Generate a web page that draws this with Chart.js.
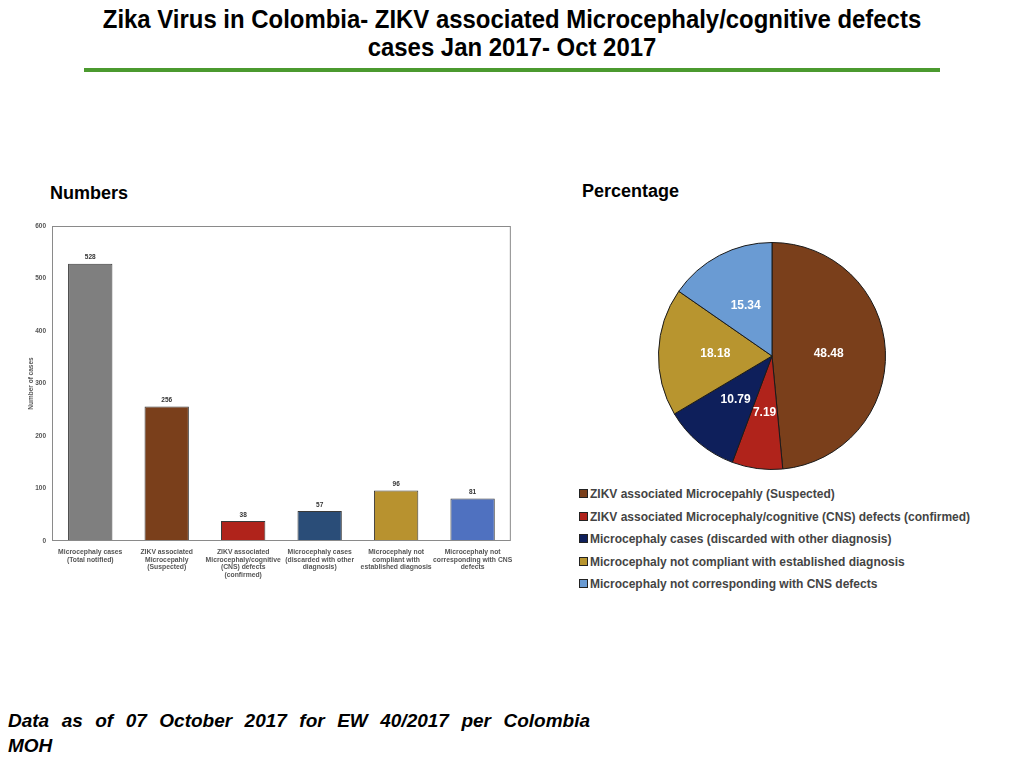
<!DOCTYPE html>
<html>
<head>
<meta charset="utf-8">
<script src="https://cdn.jsdelivr.net/npm/chart.js@4"></script>
<style>
  body { margin:0; background:#fff; width:1024px; height:768px; position:relative; overflow:hidden; font-family:"Liberation Sans", Arial, sans-serif; }
  #title { position:absolute; top:5px; left:0; width:1024px; text-align:center; font-weight:bold; font-size:26px; line-height:28px; color:#000; transform:scaleX(0.92); transform-origin:512px 0; }
  #rule { position:absolute; left:84px; top:68px; width:856px; height:4px; background:#4b9a2f; }
  .head { position:absolute; font-weight:bold; font-size:18px; color:#000; }
  #barWrap { position:absolute; left:20px; top:220px; width:500px; height:370px; }
  #pieWrap { position:absolute; left:655px; top:239px; width:234px; height:234px; }
  #legend { position:absolute; left:579px; top:487px; font-size:12px; font-weight:bold; color:#444; }
  #legend div { height:22.5px; line-height:14px; white-space:nowrap; }
  #legend span { display:inline-block; width:7px; height:7px; border:1px solid #222; margin-right:2px; vertical-align:0px; }
  #foot { position:absolute; left:8px; top:708px; width:582px; font-size:19px; font-weight:bold; font-style:italic; line-height:25px; color:#000; }
  #foot .l1 { text-align:justify; text-align-last:justify; }
</style>
</head>
<body>
<div id="title">Zika Virus in Colombia- ZIKV associated Microcephaly/cognitive defects<br>cases Jan 2017- Oct 2017</div>
<div id="rule"></div>
<div class="head" style="left:50px;top:183px;">Numbers</div>
<div class="head" style="left:582px;top:181px;">Percentage</div>
<div id="barWrap"><canvas id="barChart"></canvas></div>
<div id="pieWrap"><canvas id="pieChart"></canvas></div>
<div id="legend"></div>
<div id="foot"><div class="l1">Data as of 07 October 2017 for EW 40/2017 per Colombia</div><div>MOH</div></div>
<script>
// bar chart data
const barLabels = [
  ['Microcephaly cases', '(Total notified)'],
  ['ZIKV associated', 'Microcepahly', '(Suspected)'],
  ['ZIKV associated', 'Microcephaly/cognitive', '(CNS) defects', '(confirmed)'],
  ['Microcephaly cases', '(discarded with other', 'diagnosis)'],
  ['Microcephaly not', 'compliant with', 'established diagnosis'],
  ['Microcephaly not', 'corresponding with CNS', 'defects']
];
const barValues = [528, 256, 38, 57, 96, 81];
const barColors = ['#7f7f7f', '#7a3f1b', '#b0231b', '#2a4d78', '#b8922f', '#4f71c0'];
const yTicks = [0, 100, 200, 300, 400, 500, 600];
const yTitle = 'Number of cases';

// pie chart data
const pieLabels = [
  'ZIKV associated Microcepahly (Suspected)',
  'ZIKV associated Microcephaly/cognitive (CNS) defects (confirmed)',
  'Microcephaly cases (discarded with other diagnosis)',
  'Microcephaly not compliant with established diagnosis',
  'Microcephaly not corresponding with CNS defects'
];
const pieValues = [48.48, 7.19, 10.79, 18.18, 15.34];
const pieColors = ['#7a3f1b', '#b0231b', '#0e1f5b', '#b8952f', '#6a9bd3'];

// values on top of the bars, box round the plot, y title
const barValuePlugin = {
  id: 'barValues',
  afterDatasetsDraw(chart) {
    const ctx = chart.ctx;
    const meta = chart.getDatasetMeta(0);
    const a = chart.chartArea;
    ctx.save();
    ctx.font = 'bold 6.5px "Liberation Sans", Arial';
    ctx.fillStyle = '#333';
    ctx.textAlign = 'center';
    ctx.textBaseline = 'bottom';
    meta.data.forEach((bar, i) => {
      ctx.fillText(barValues[i], bar.x, bar.y - 3);
    });
    ctx.strokeStyle = '#8a8a8a';
    ctx.lineWidth = 1;
    ctx.strokeRect(a.left + 0.5, a.top + 0.5, a.right - a.left - 1, a.bottom - a.top - 1);
    // rotated axis title
    ctx.translate(11, (a.top + a.bottom) / 2);
    ctx.rotate(-Math.PI / 2);
    ctx.textBaseline = 'middle';
    ctx.fillStyle = '#555';
    ctx.fillText(yTitle, 0, 0);
    ctx.restore();
  }
};

new Chart(document.getElementById('barChart'), {
  type: 'bar',
  data: {
    labels: barLabels,
    datasets: [{
      data: barValues,
      backgroundColor: barColors,
      borderColor: '#3a3a3a',
      borderWidth: 1,
      barPercentage: 0.58,
      categoryPercentage: 1
    }]
  },
  options: {
    responsive: true,
    maintainAspectRatio: false,
    animation: false,
    layout: { padding: { left: 0, right: 9, top: 6, bottom: 0 } },
    plugins: { legend: { display: false }, tooltip: { enabled: false } },
    scales: {
      y: {
        min: 0, max: 600,
        afterBuildTicks(scale) { scale.ticks = yTicks.map(v => ({ value: v })); },
        afterFit(scale) { scale.width = 32; scale.paddingTop = 0; scale.paddingBottom = 0; },
        grid: { display: false, drawTicks: false },
        border: { display: false },
        ticks: { color: '#555', font: { size: 6.5, family: 'Liberation Sans', weight: 'bold' }, padding: 6 }
      },
      x: {
        afterFit(scale) { scale.height = 49; },
        grid: { display: false, drawTicks: false },
        border: { display: false },
        ticks: { color: '#555', font: { size: 6.8, family: 'Liberation Sans', weight: 'bold', lineHeight: 1.15 }, padding: 7, maxRotation: 0, autoSkip: false }
      }
    }
  },
  plugins: [barValuePlugin]
});

// percentage labels inside the slices
const pieValuePlugin = {
  id: 'pieValues',
  afterDatasetsDraw(chart) {
    const ctx = chart.ctx;
    const meta = chart.getDatasetMeta(0);
    ctx.save();
    ctx.font = 'bold 12px "Liberation Sans", Arial';
    ctx.fillStyle = '#fff';
    ctx.textAlign = 'center';
    ctx.textBaseline = 'middle';
    meta.data.forEach((arc, i) => {
      const mid = (arc.startAngle + arc.endAngle) / 2;
      const r = arc.outerRadius * 0.5;
      ctx.fillText(pieValues[i].toFixed(2), arc.x + Math.cos(mid) * r, arc.y + Math.sin(mid) * r);
    });
    ctx.restore();
  }
};

new Chart(document.getElementById('pieChart'), {
  type: 'pie',
  data: {
    labels: pieLabels,
    datasets: [{
      data: pieValues,
      backgroundColor: pieColors,
      borderColor: '#1a1a1a',
      borderWidth: 1
    }]
  },
  options: {
    responsive: true,
    maintainAspectRatio: false,
    animation: false,
    layout: { padding: 3 },
    plugins: { legend: { display: false }, tooltip: { enabled: false } }
  },
  plugins: [pieValuePlugin]
});

// legend under the pie
const legend = document.getElementById('legend');
pieLabels.forEach((txt, i) => {
  const row = document.createElement('div');
  const box = document.createElement('span');
  box.style.background = pieColors[i];
  row.appendChild(box);
  row.appendChild(document.createTextNode(txt));
  legend.appendChild(row);
});
</script>
</body>
</html>
